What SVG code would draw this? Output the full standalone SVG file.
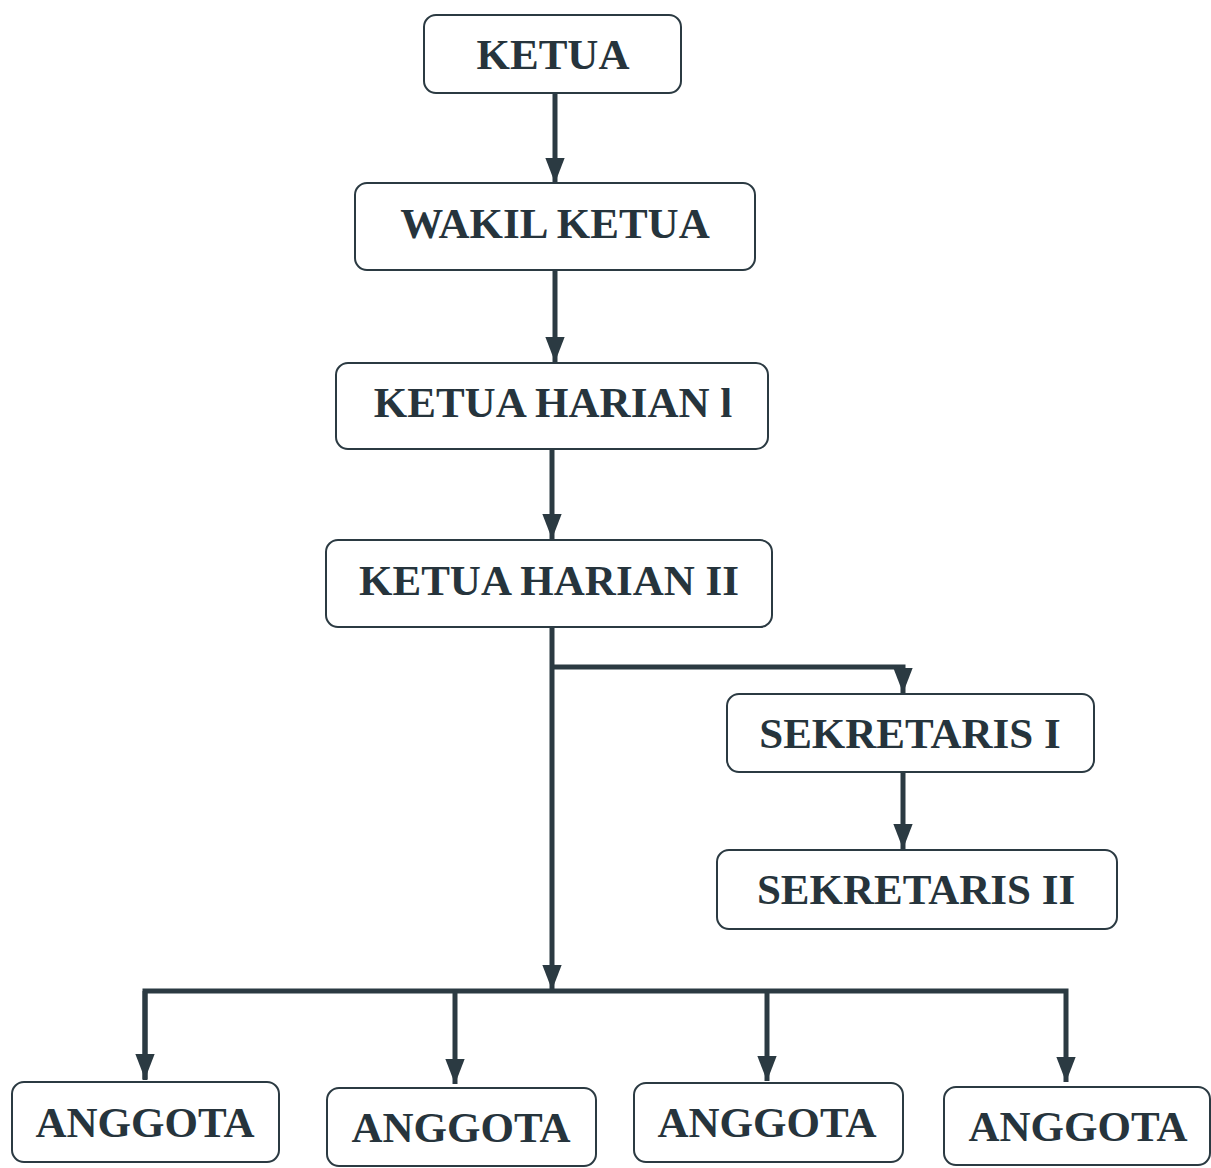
<svg xmlns="http://www.w3.org/2000/svg" width="1211" height="1168" viewBox="0 0 1211 1168">
<style>
.box{fill:#fff;stroke:#2b3a42;stroke-width:2}
.t{font-family:"Liberation Serif","Times New Roman",serif;font-weight:bold;font-size:43px;fill:#26343c;text-anchor:middle}
.c{fill:none;stroke:#2b3a42;stroke-width:5}
</style>
<defs>
<marker id="ah" markerWidth="5" markerHeight="5" refX="4.4" refY="1.7" orient="auto" markerUnits="strokeWidth" viewBox="0 0 4.4 3.4">
<path d="M0,0 L4.4,1.7 L0,3.4 Z" fill="#2b3a42"/>
</marker>
</defs>
<rect width="1211" height="1168" fill="#fff"/>
<g id="connectors">
<path class="c" d="M555,93 V183" marker-end="url(#ah)"/>
<path class="c" d="M555,270 V362" marker-end="url(#ah)"/>
<path class="c" d="M552,449 V539" marker-end="url(#ah)"/>
<path class="c" d="M552,627 V990" marker-end="url(#ah)"/>
<path class="c" d="M552,667 H903 V693" marker-end="url(#ah)"/>
<path class="c" d="M903,772 V849" marker-end="url(#ah)"/>
<path class="c" d="M145,1080 V991 H1066 V1082" marker-end="url(#ah)"/>
<path class="c" d="M145,991 V1079" marker-end="url(#ah)"/>
<path class="c" d="M455,991 V1084" marker-end="url(#ah)"/>
<path class="c" d="M767,991 V1081" marker-end="url(#ah)"/>
</g>
<g id="ketua"><rect class="box" x="424" y="15" width="257" height="78" rx="12"/><text class="t" x="553" y="69">KETUA</text></g>
<g id="wakil-ketua"><rect class="box" x="355" y="183" width="400" height="87" rx="12"/><text class="t" x="555" y="238">WAKIL KETUA</text></g>
<g id="ketua-harian-1"><rect class="box" x="336" y="363" width="432" height="86" rx="12"/><text class="t" x="553" y="417">KETUA HARIAN l</text></g>
<g id="ketua-harian-2"><rect class="box" x="326" y="540" width="446" height="87" rx="12"/><text class="t" x="549" y="595">KETUA HARIAN II</text></g>
<g id="sekretaris-1"><rect class="box" x="727" y="694" width="367" height="78" rx="12"/><text class="t" x="910" y="748">SEKRETARIS I</text></g>
<g id="sekretaris-2"><rect class="box" x="717" y="850" width="400" height="79" rx="12"/><text class="t" x="916" y="904">SEKRETARIS II</text></g>
<g id="anggota-1"><rect class="box" x="12" y="1082" width="267" height="80" rx="12"/><text class="t" x="145" y="1137">ANGGOTA</text></g>
<g id="anggota-2"><rect class="box" x="327" y="1088" width="269" height="78" rx="12"/><text class="t" x="461" y="1142">ANGGOTA</text></g>
<g id="anggota-3"><rect class="box" x="634" y="1083" width="269" height="79" rx="12"/><text class="t" x="767" y="1137">ANGGOTA</text></g>
<g id="anggota-4"><rect class="box" x="944" y="1087" width="266" height="78" rx="12"/><text class="t" x="1078" y="1141">ANGGOTA</text></g>
</svg>
